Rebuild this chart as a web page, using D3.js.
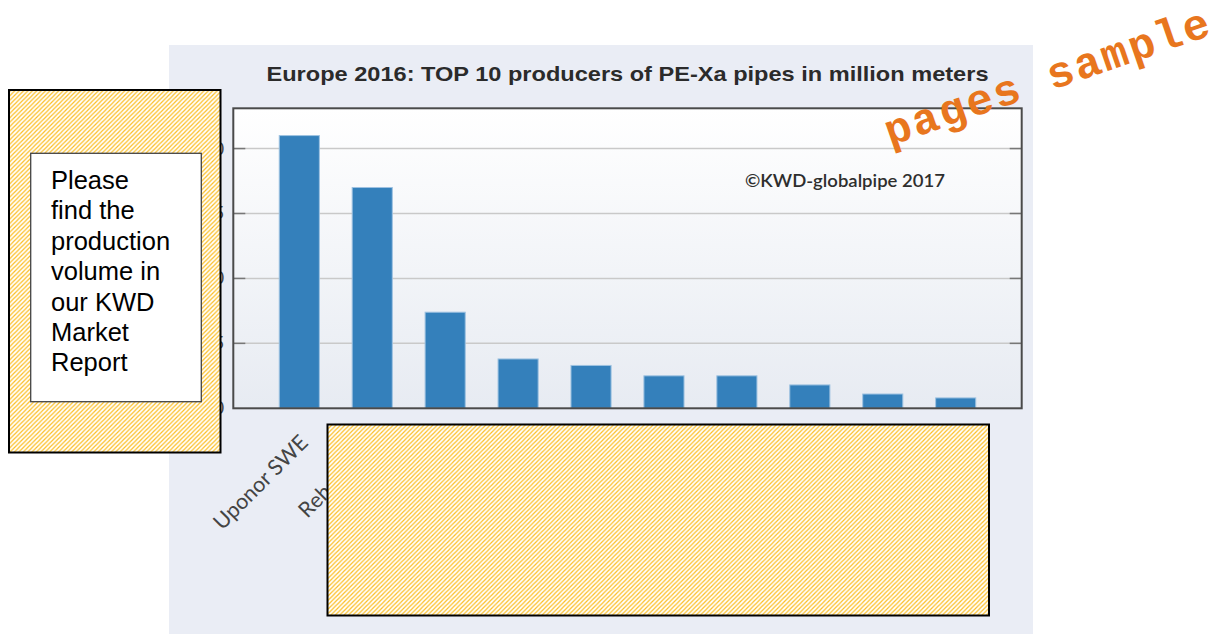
<!DOCTYPE html>
<html>
<head>
<meta charset="utf-8">
<script src="https://cdn.jsdelivr.net/npm/d3@7"></script>
<style>
  html, body { margin: 0; padding: 0; background: #ffffff; }
  svg { display: block; }
</style>
</head>
<body>
<svg width="1223" height="634"></svg>
<script>
// -------------------- Data --------------------

// producers (only the first two labels are readable, the rest sit under the cover box)
const producers = ["Uponor SWE", "Rehau GER", "Producer 3", "Producer 4", "Producer 5",
                   "Producer 6", "Producer 7", "Producer 8", "Producer 9", "Producer 10"];
// million meters, 2016
const volumes = [21.0, 17.0, 7.4, 3.8, 3.3, 2.5, 2.5, 1.8, 1.1, 0.8];
const yTicks = [0, 5, 10, 15, 20];
const yMax = 23.1;

const titleText = "Europe 2016: TOP 10 producers of PE-Xa pipes in million meters";
const copyText = "\u00A9KWD-globalpipe 2017";
const noteLines = ["Please", "find the", "production", "volume in", "our KWD", "Market", "Report"];

// -------------------- Layout --------------------

const svg = d3.select("svg");
const plot = { left: 233.3, top: 108.3, right: 1021.7, bottom: 408.3 };

const defs = svg.append("defs");

// plot background gradient
const grad = defs.append("linearGradient")
  .attr("id", "plotBg")
  .attr("x1", 0).attr("y1", 0).attr("x2", 0).attr("y2", 1);
grad.append("stop").attr("offset", "0%").attr("stop-color", "#ffffff");
grad.append("stop").attr("offset", "100%").attr("stop-color", "#e7ebf2");

// yellow hatching for the cover boxes
const hatch = defs.append("pattern")
  .attr("id", "hatch")
  .attr("patternUnits", "userSpaceOnUse")
  .attr("width", 4.4).attr("height", 4.4);
hatch.append("rect").attr("width", 4.4).attr("height", 4.4).attr("fill", "#ffffff");
hatch.append("path")
  .attr("d", "M0,4.4 L4.4,0 M-1.1,1.1 L1.1,-1.1 M3.3,5.5 L5.5,3.3")
  .attr("stroke", "#fcbd22")
  .attr("stroke-width", 1.2);

// panel background
svg.append("rect")
  .attr("x", 169).attr("y", 45)
  .attr("width", 864).attr("height", 600)
  .attr("fill", "#eaedf5");

// title
svg.append("text")
  .attr("x", (plot.left + plot.right) / 2)
  .attr("y", 80.5)
  .attr("text-anchor", "middle")
  .attr("font-family", "Liberation Sans, Arial, sans-serif")
  .attr("font-weight", "bold")
  .attr("font-size", 21)
  .attr("fill", "#2b2b2b")
  .attr("textLength", 722)
  .attr("lengthAdjust", "spacingAndGlyphs")
  .text(titleText);

// plot area
svg.append("rect")
  .attr("x", plot.left).attr("y", plot.top)
  .attr("width", plot.right - plot.left)
  .attr("height", plot.bottom - plot.top)
  .attr("fill", "url(#plotBg)");

// -------------------- Scales --------------------

const x = d3.scaleBand()
  .domain(producers)
  .range([plot.left, plot.right])
  .paddingInner(0.45)
  .paddingOuter(0.63);

const y = d3.scaleLinear()
  .domain([0, yMax])
  .range([plot.bottom, plot.top]);

// gridlines
svg.append("g")
  .selectAll("line")
  .data(yTicks.filter(t => t > 0))
  .enter().append("line")
  .attr("x1", plot.left).attr("x2", plot.right)
  .attr("y1", d => y(d)).attr("y2", d => y(d))
  .attr("stroke", "#c9c9c9")
  .attr("stroke-width", 1.5);

// tick marks inside the frame, left and right
const tickG = svg.append("g");
["left", "right"].forEach(side => {
  tickG.selectAll("line." + side)
    .data(yTicks.filter(t => t > 0))
    .enter().append("line")
    .attr("class", side)
    .attr("x1", side === "left" ? plot.left : plot.right - 12)
    .attr("x2", side === "left" ? plot.left + 12 : plot.right)
    .attr("y1", d => y(d)).attr("y2", d => y(d))
    .attr("stroke", "#777777")
    .attr("stroke-width", 1.5);
});

// y tick labels
svg.append("g")
  .selectAll("text")
  .data(yTicks)
  .enter().append("text")
  .attr("x", 224)
  .attr("y", d => y(d))
  .attr("dy", "0.35em")
  .attr("text-anchor", "end")
  .attr("font-family", "Lato, sans-serif")
  .attr("font-size", 17)
  .attr("fill", "#444444")
  .text(d => d);

// bars
svg.append("g")
  .selectAll("rect")
  .data(volumes)
  .enter().append("rect")
  .attr("x", (d, i) => x(producers[i]))
  .attr("y", d => y(d))
  .attr("width", x.bandwidth())
  .attr("height", d => y(0) - y(d))
  .attr("fill", "#3480bb")
  .attr("stroke", "#9ec2e1")
  .attr("stroke-width", 1);

// frame
svg.append("rect")
  .attr("x", plot.left).attr("y", plot.top)
  .attr("width", plot.right - plot.left)
  .attr("height", plot.bottom - plot.top)
  .attr("fill", "none")
  .attr("stroke", "#4a4a4a")
  .attr("stroke-width", 2);

// copyright note
svg.append("text")
  .attr("x", 745)
  .attr("y", 187)
  .attr("font-family", "Lato, sans-serif")
  .attr("font-weight", 600)
  .attr("font-size", 18)
  .attr("fill", "#2e2e2e")
  .attr("textLength", 200)
  .attr("lengthAdjust", "spacingAndGlyphs")
  .text(copyText);

// x labels, rotated
svg.append("g")
  .selectAll("text")
  .data(producers)
  .enter().append("text")
  .attr("transform", d => `translate(${x(d) + x.bandwidth() / 2 + 10},${444}) rotate(-45)`)
  .attr("text-anchor", "end")
  .attr("font-family", "Lato, sans-serif")
  .attr("font-size", 21.5)
  .attr("fill", "#444444")
  .text(d => d);

// -------------------- Cover boxes --------------------

// left box with note
svg.append("rect")
  .attr("x", 9).attr("y", 90)
  .attr("width", 211.5).attr("height", 362.5)
  .attr("fill", "url(#hatch)")
  .attr("stroke", "#000000")
  .attr("stroke-width", 2);

svg.append("rect")
  .attr("x", 30.7).attr("y", 153.3)
  .attr("width", 170.6).attr("height", 248.4)
  .attr("fill", "#ffffff")
  .attr("stroke", "#444444")
  .attr("stroke-width", 1.3);

svg.append("g")
  .selectAll("text")
  .data(noteLines)
  .enter().append("text")
  .attr("x", 51)
  .attr("y", (d, i) => 189 + i * 30.4)
  .attr("font-family", "Liberation Sans, Arial, sans-serif")
  .attr("font-size", 25.5)
  .attr("fill", "#000000")
  .text(d => d);

// bottom box over the labels
svg.append("rect")
  .attr("x", 327.5).attr("y", 424.5)
  .attr("width", 661.5).attr("height", 191)
  .attr("fill", "url(#hatch)")
  .attr("stroke", "#000000")
  .attr("stroke-width", 2);

// watermark
svg.append("text")
  .attr("transform", "translate(890,146) rotate(-19)")
  .attr("font-family", "Liberation Mono, Courier New, monospace")
  .attr("font-weight", "bold")
  .attr("font-size", 44)
  .attr("letter-spacing", 2.2)
  .attr("fill", "#e8761e")
  .text("pages sample");
</script>
</body>
</html>
